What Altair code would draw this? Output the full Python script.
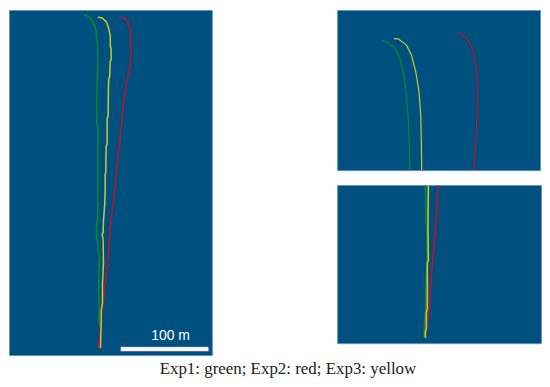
import altair as alt
import pandas as pd

SERIES = ["Exp1", "Exp2", "Exp3"]
COLORS = ["#0b8a2c", "#c0102c", "#c9c92e"]
CAPTION = "Exp1: green; Exp2: red; Exp3: yellow"
BAR_LABEL = "100 m"
PANEL_FILL = "#00507f"
PANEL_EDGE = "#5f94b8"

main_exp1_x = [83.3, 87.3, 90.7, 93.7, 95.7, 97, 97.3, 96.7, 96.3, 96.3, 97.3, 97.3, 97, 96.3, 96, 97.3, 97.3, 98.7, 98.3, 98.7, 99.7]
main_exp1_y = [13, 14, 17.3, 22.7, 30, 43.3, 63, 76.7, 100, 123, 125, 190, 220, 222, 235, 240, 250, 253, 283, 323, 327]
main_exp2_x = [120, 124, 127.3, 130, 130.7, 129.3, 125, 122.7, 120, 116.7, 114.3, 110, 107.3, 104, 101, 99.3, 97.7]
main_exp2_y = [14.7, 16, 19.3, 28, 50, 66.7, 88, 106.7, 133, 163, 190, 223, 263, 290, 317, 337, 349]
main_exp3_x = [97.3, 101.7, 106, 108.3, 109.7, 110, 110.7, 110.7, 109.7, 109.3, 108.3, 108, 107.7, 106.7, 106.7, 105.7, 105.3, 104.7, 104.7, 104.3, 103, 102.7, 101.7, 102.7, 103, 102, 102, 100.7, 100.7, 100]
main_exp3_y = [15.3, 16, 20, 26.7, 33.3, 45, 46.7, 58, 60, 75, 77, 86.7, 115, 116.7, 143, 145, 171.7, 173, 190, 203, 220, 232, 233, 240, 263, 283, 303, 310, 323, 348]

top_exp1_x = [382.3, 388.3, 395, 400, 404, 406.7, 408.7, 409.7, 410]
top_exp1_y = [38.3, 40.7, 46.7, 56.7, 73.3, 93.3, 120, 146.7, 169]
top_exp2_x = [458, 462.7, 468.3, 473.3, 476.7, 478, 477.7, 476.3, 474.7]
top_exp2_y = [31, 32.7, 37.3, 48.3, 65, 86.7, 113, 143, 169]
top_exp3_x = [394, 398.3, 406.7, 411.7, 416, 419.3, 421, 421.7, 422]
top_exp3_y = [36.7, 37, 43.3, 53.3, 70, 90, 113, 140, 169]

bot_exp1_x = [424.8, 425.1, 426.4, 426.4, 425.2, 425.2, 424.1, 423.3]
bot_exp1_y = [184.7, 221.7, 225, 261.7, 290, 308, 318, 336.7]
bot_exp2_x = [438, 436.7, 435.3, 432.7, 430.7, 428.7, 426.7, 424.7]
bot_exp2_y = [184.7, 198, 221.7, 251.7, 275, 308, 321.7, 337.7]
bot_exp3_x = [427.7, 427.3, 427.7, 426.7, 426.7, 425.7, 425.7, 424.7, 424.7]
bot_exp3_y = [184.7, 225, 260, 262, 308, 312, 328, 331.7, 337.7]

bar_start = [120]
bar_end = [209]
bar_y = [346.5]
bar_y2 = [351.5]
label_x = [170.5]
label_y = [336]

VIEW = alt.ViewBackground(fill=PANEL_FILL, stroke=PANEL_EDGE, strokeWidth=1)


def table(xs, ys):
    rows = []
    for name, x_vals, y_vals in zip(SERIES, xs, ys):
        for i, (x, y) in enumerate(zip(x_vals, y_vals)):
            rows.append({"exp": name, "i": i, "x": x, "y": y})
    return pd.DataFrame(rows)


def panel(xs, ys, x_domain, y_domain, width_, height_, line_width):
    return (
        alt.Chart(table(xs, ys))
        .mark_line(strokeWidth=line_width, clip=True, interpolate="linear")
        .encode(
            x=alt.X("x:Q", axis=None, scale=alt.Scale(domain=x_domain, nice=False, zero=False)),
            y=alt.Y("y:Q", axis=None, scale=alt.Scale(domain=y_domain, nice=False, zero=False)),
            color=alt.Color("exp:N", legend=None, scale=alt.Scale(domain=SERIES, range=COLORS)),
            order="i:Q",
        )
        .properties(width=width_, height=height_, view=VIEW)
    )


main_dom_x = [8, 212]
main_dom_y = [355, 8]
main_lines = panel(
    [main_exp1_x, main_exp2_x, main_exp3_x],
    [main_exp1_y, main_exp2_y, main_exp3_y],
    main_dom_x, main_dom_y, 204, 347, 1.5,
)
bar = (
    alt.Chart(pd.DataFrame({"a": bar_start, "b": bar_end, "y": bar_y, "y2": bar_y2}))
    .mark_rect(color="white", stroke="#2f4fa0", strokeWidth=0.8)
    .encode(
        x=alt.X("a:Q", axis=None, scale=alt.Scale(domain=main_dom_x, nice=False, zero=False)),
        x2="b:Q",
        y=alt.Y("y:Q", axis=None, scale=alt.Scale(domain=main_dom_y, nice=False, zero=False)),
        y2="y2:Q",
    )
)
label = (
    alt.Chart(pd.DataFrame({"x": label_x, "y": label_y, "t": [BAR_LABEL]}))
    .mark_text(color="white", font="Liberation Sans", fontSize=14, align="center", baseline="middle")
    .encode(
        x=alt.X("x:Q", axis=None, scale=alt.Scale(domain=main_dom_x, nice=False, zero=False)),
        y=alt.Y("y:Q", axis=None, scale=alt.Scale(domain=main_dom_y, nice=False, zero=False)),
        text="t:N",
    )
)
left = alt.layer(main_lines, bar, label).properties(view=VIEW)

top = panel(
    [top_exp1_x, top_exp2_x, top_exp3_x],
    [top_exp1_y, top_exp2_y, top_exp3_y],
    [337, 541], [169, 8], 204, 161, 1.2,
)
bottom = panel(
    [bot_exp1_x, bot_exp2_x, bot_exp3_x],
    [bot_exp1_y, bot_exp2_y, bot_exp3_y],
    [336, 541], [343, 184], 205, 159, 1.6,
)

right = alt.vconcat(top, bottom, spacing=13)

chart = (
    alt.hconcat(left, right, spacing=124)
    .properties(
        padding=0,
        background="white",
        title=alt.TitleParams(
            CAPTION, orient="bottom", anchor="middle", font="Liberation Serif",
            fontSize=17, fontWeight="normal", color="#222222", offset=6, dx=13,
        ),
    )
)

chart.save("out.html", embed_options={"renderer": "svg", "actions": False})
